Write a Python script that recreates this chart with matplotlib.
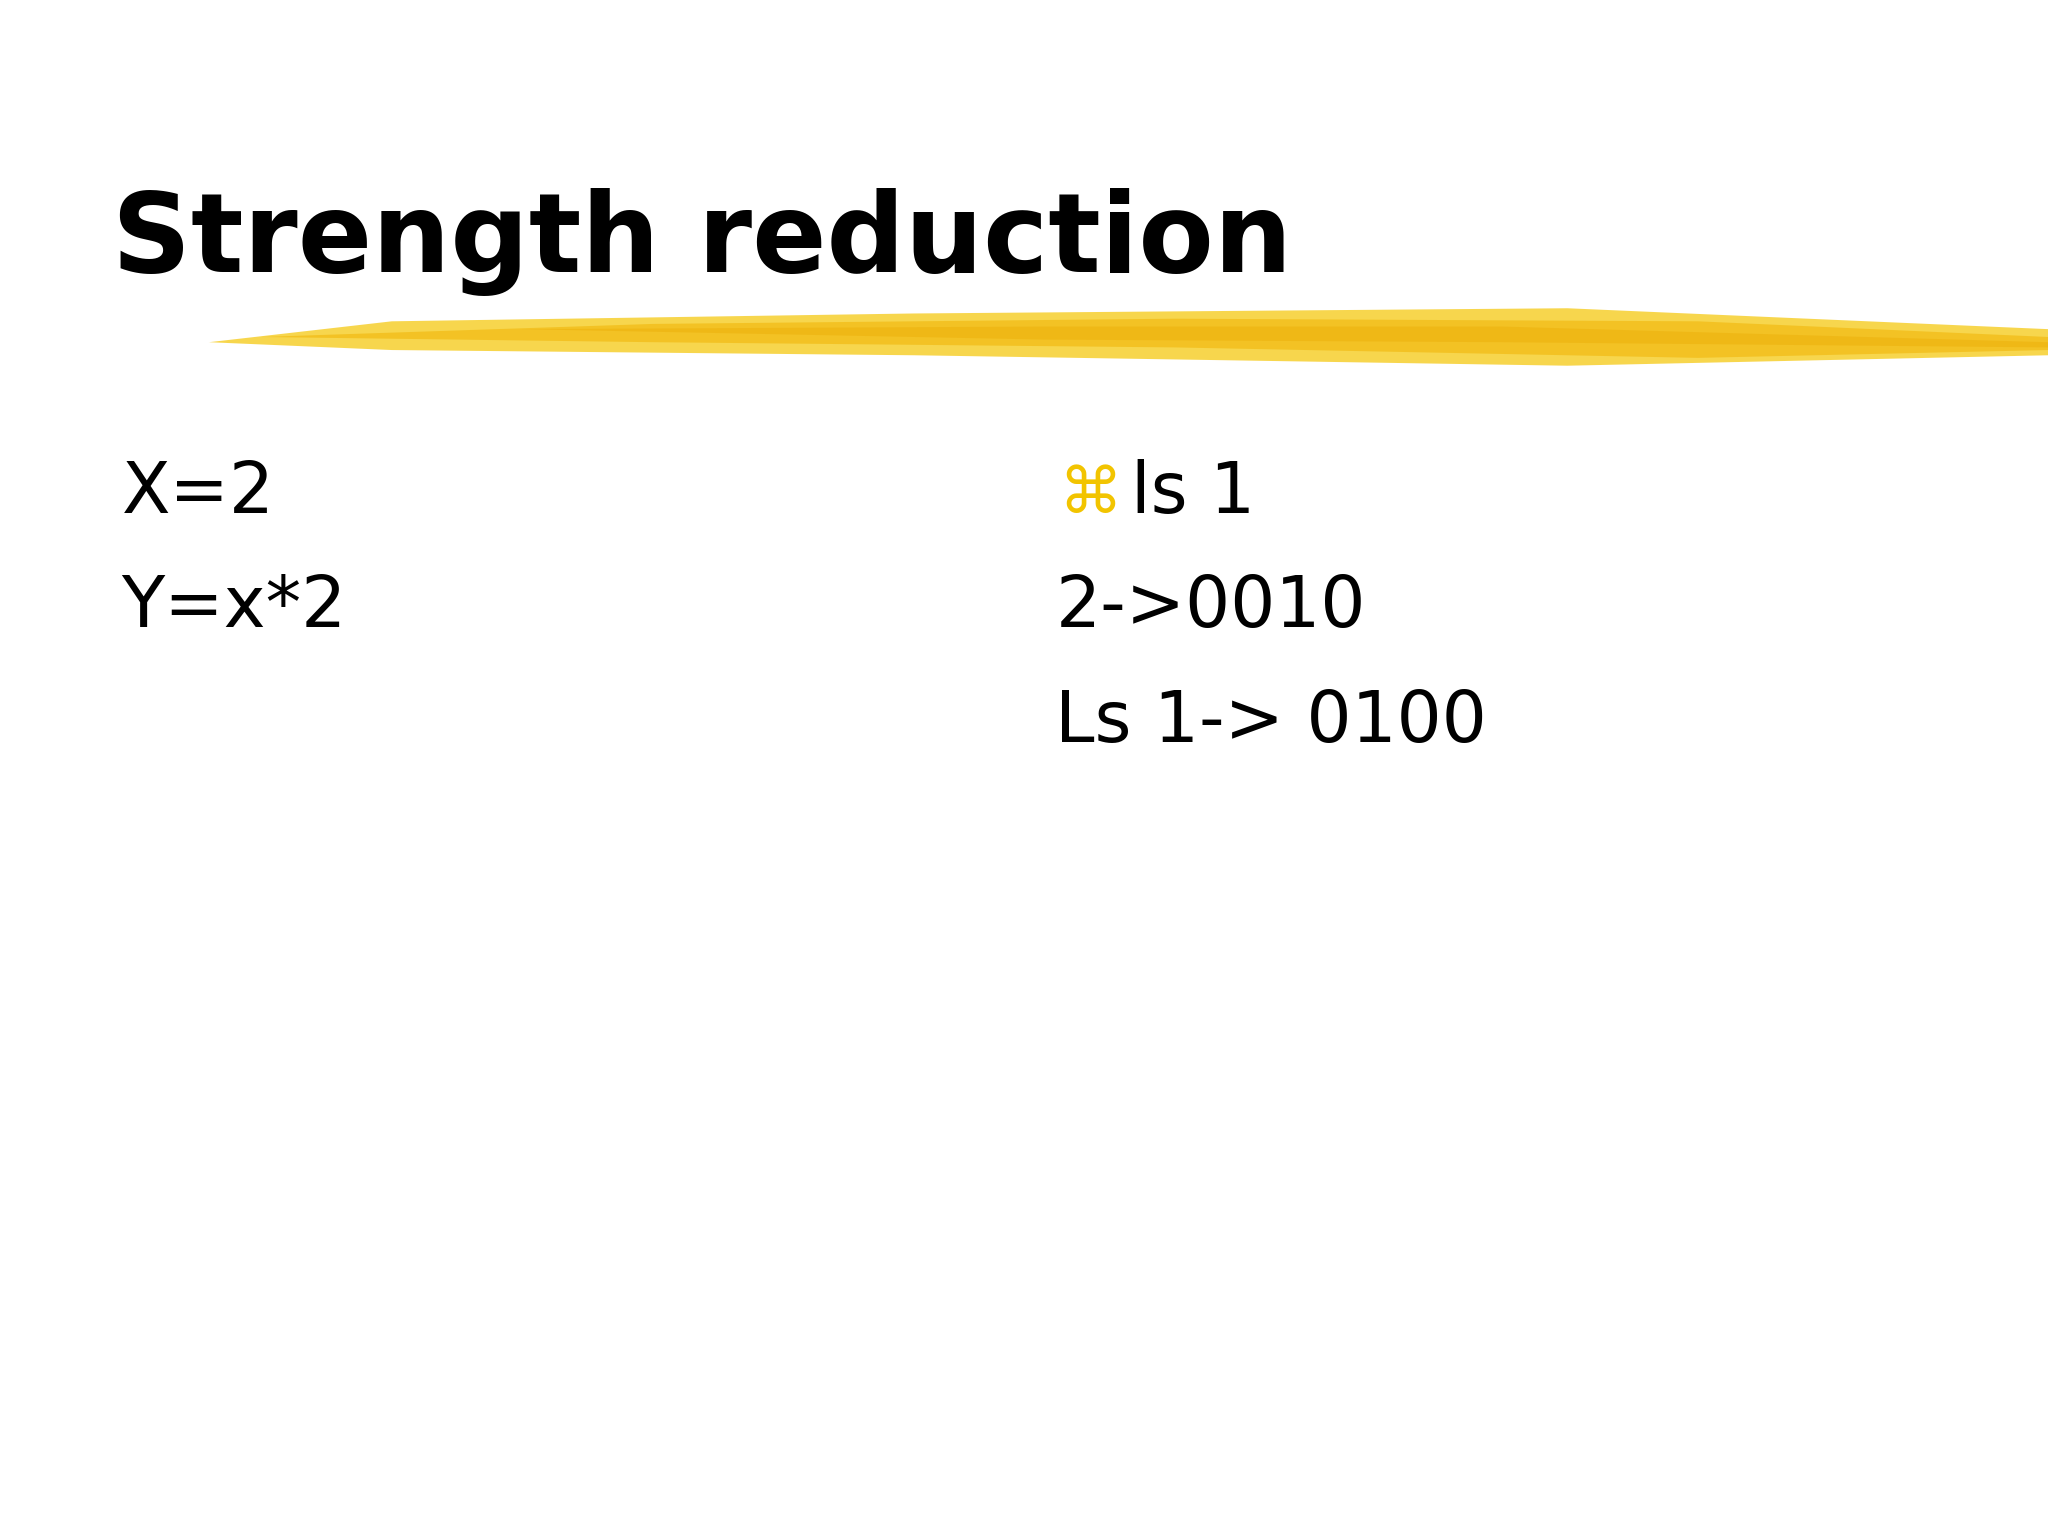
import matplotlib
matplotlib.use("Agg")
import matplotlib.pyplot as plt
from matplotlib.patches import Polygon

title = "Strength reduction"
left_lines = ["X=2", "Y=x*2"]
right_bullet = "\u2318"
right_lines = ["ls 1", "2->0010", "Ls 1-> 0100"]

W, H = 1568.0, 1176.0
fig = plt.figure(figsize=(20.48, 15.36), dpi=100)
fig.patch.set_facecolor("white")

def fx(x): return x / W
def fy(y): return 1 - y / H

# brush stroke
strokes = [
    ([(160, 262), (300, 246), (700, 240), (1200, 236), (1568, 252), (1568, 272), (1200, 280), (700, 272), (300, 268)], "#F7D23A", 0.9),
    ([(200, 258), (500, 248), (900, 244), (1300, 246), (1568, 258), (1568, 268), (1300, 274), (900, 266), (500, 262)], "#F2BE1A", 0.8),
    ([(400, 252), (800, 250), (1150, 250), (1568, 262), (1568, 266), (1150, 262), (800, 260)], "#EDB20E", 0.6),
]
for pts, c, a in strokes:
    fig.patches.append(Polygon([(fx(x), fy(y)) for x, y in pts], closed=True,
                               transform=fig.transFigure, facecolor=c, edgecolor="none", alpha=a))

fig.text(fx(86), fy(208), title, fontsize=79, fontweight="heavy",
         family="DejaVu Sans", color="black", va="baseline", ha="left")

ys = [393, 480, 568]
fs = 51
for i, t in enumerate(left_lines):
    fig.text(fx(93), fy(ys[i]), t, fontsize=fs, family="DejaVu Sans", va="baseline")

fig.text(fx(810), fy(ys[0]), right_bullet, fontsize=46, family="DejaVu Sans",
         color="#F2C400", va="baseline")
fig.text(fx(866), fy(ys[0]), right_lines[0], fontsize=fs, family="DejaVu Sans", va="baseline")
for i, t in enumerate(right_lines[1:], start=1):
    fig.text(fx(808), fy(ys[i]), t, fontsize=fs, family="DejaVu Sans", va="baseline")

fig.savefig("out.png", dpi=100)
